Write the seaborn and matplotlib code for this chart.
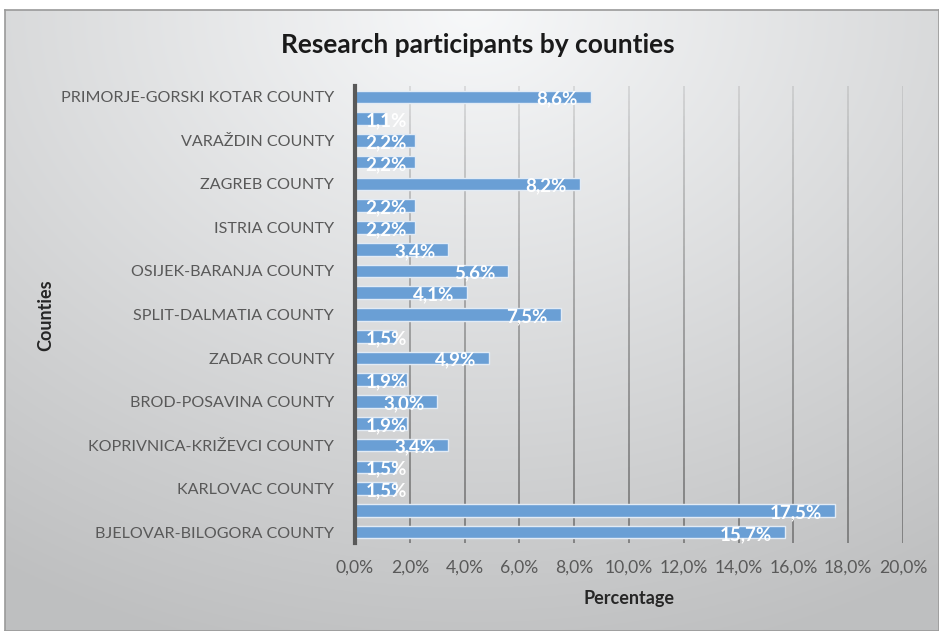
import numpy as np
import pandas as pd
import matplotlib
matplotlib.use("Agg")
import matplotlib.pyplot as plt
import seaborn as sns
from matplotlib.collections import LineCollection

# ---------------------------------------------------------------------
# data (top -> bottom as drawn)
# ---------------------------------------------------------------------
counties = [
    "PRIMORJE-GORSKI KOTAR COUNTY", "MEĐIMURJE COUNTY", "VARAŽDIN COUNTY",
    "LIKA-SENJ COUNTY", "ZAGREB COUNTY", "KRAPINA-ZAGORJE COUNTY",
    "ISTRIA COUNTY", "SISAK-MOSLAVINA COUNTY", "OSIJEK-BARANJA COUNTY",
    "DUBROVNIK-NERETVA COUNTY", "SPLIT-DALMATIA COUNTY", "ŠIBENIK-KNIN COUNTY",
    "ZADAR COUNTY", "VUKOVAR-SRIJEM COUNTY", "BROD-POSAVINA COUNTY",
    "POŽEGA-SLAVONIA COUNTY", "KOPRIVNICA-KRIŽEVCI COUNTY",
    "VIROVITICA-PODRAVINA COUNTY", "KARLOVAC COUNTY", "CITY OF ZAGREB",
    "BJELOVAR-BILOGORA COUNTY",
]
percent = [8.6, 1.1, 2.2, 2.2, 8.2, 2.2, 2.2, 3.4, 5.6, 4.1, 7.5,
           1.5, 4.9, 1.9, 3.0, 1.9, 3.4, 1.5, 1.5, 17.5, 15.7]
# only every other category is labelled on the axis
shown = [i % 2 == 0 for i in range(len(counties))]
x_ticks = [0, 2, 4, 6, 8, 10, 12, 14, 16, 18, 20]

df = pd.DataFrame({"county": counties, "pct": percent})

sns.set_theme(style="white")
plt.rcParams["font.family"] = ["Lato", "DejaVu Sans"]

fig = plt.figure(figsize=(9.39, 6.31), dpi=100)

# gradient background panel
bg = fig.add_axes([0.005, 0, 0.995, 1 - 10 / 631], zorder=-10)
yy, xx = np.mgrid[0:1:300j, 0:1:450j]
r = np.sqrt(((xx - 0.5) * 1.1) ** 2 + (yy * 0.95) ** 2)
shade = np.clip(0.975 - 0.22 * r, 0.75, 0.98)
bg.imshow(np.dstack([shade * 0.995, shade, shade * 1.005]).clip(0, 1),
          aspect="auto", extent=[0, 1, 0, 1], origin="upper")
bg.set_xticks([])
bg.set_yticks([])
for s in bg.spines.values():
    s.set_color("#9a9a9a")
    s.set_linewidth(1.2)

ax = fig.add_axes([355 / 939, 1 - 543 / 631, 548 / 939, 457 / 631])
ax.patch.set_alpha(0)

sns.barplot(data=df, x="pct", y="county", orient="h", ax=ax,
            color="#6a9fd5", saturation=1, width=0.58,
            edgecolor="#e2ebf5", linewidth=1.0, zorder=3)

ax.set_xlim(0, 20)
ax.set_ylim(len(counties) - 0.5, -0.5)
ax.set_xticks(x_ticks)
ax.set_xticklabels([f"{t:.1f}%".replace(".", ",") for t in x_ticks])
ax.set_yticks(range(len(counties)))
ax.set_yticklabels([c if s else "" for c, s in zip(counties, shown)])
ax.tick_params(axis="y", length=0, pad=15, labelsize=11.6, colors="#595959")
ax.tick_params(axis="x", length=0, pad=12, labelsize=12.6, colors="#595959")

# vertical gridlines fading out towards the top
ny = 60
ys = np.linspace(len(counties) - 0.5, -0.5, ny + 1)
segs, cols = [], []
for t in x_ticks[1:]:
    for k in range(ny):
        segs.append([(t, ys[k]), (t, ys[k + 1])])
        f = k / ny
        a = 0.95 - 0.75 * f ** 1.3
        cols.append((0.42, 0.42, 0.42, a))
ax.add_collection(LineCollection(segs, colors=cols, linewidths=1.1, zorder=1))

for side in ["top", "right", "bottom"]:
    ax.spines[side].set_visible(False)
ax.spines["left"].set_color("#595959")
ax.spines["left"].set_linewidth(3)
ax.spines["left"].set_zorder(5)

# value labels, "inside end"
for i, v in enumerate(percent):
    xr = max(v - 0.47, 1.9 if v < 10 else 2.3)
    ax.text(xr, i + 0.1, f"{v:.1f}%".replace(".", ","), ha="right",
            va="center", color="white", fontsize=13.5, fontweight="bold",
            zorder=6)

ax.set_xlabel("Percentage", fontsize=13, fontweight="bold",
              color="#262626", labelpad=10)
ax.set_ylabel("")
fig.text(46 / 939, 1 - 315 / 631, "Counties", rotation=90, ha="center",
         va="center", fontsize=13, fontweight="bold", color="#262626")

fig.text(478 / 939, 1 - 45 / 631, "Research participants by counties",
         ha="center", va="center", fontsize=19, fontweight="bold",
         color="#1a1a1a")

fig.savefig("out.png", dpi=100)
